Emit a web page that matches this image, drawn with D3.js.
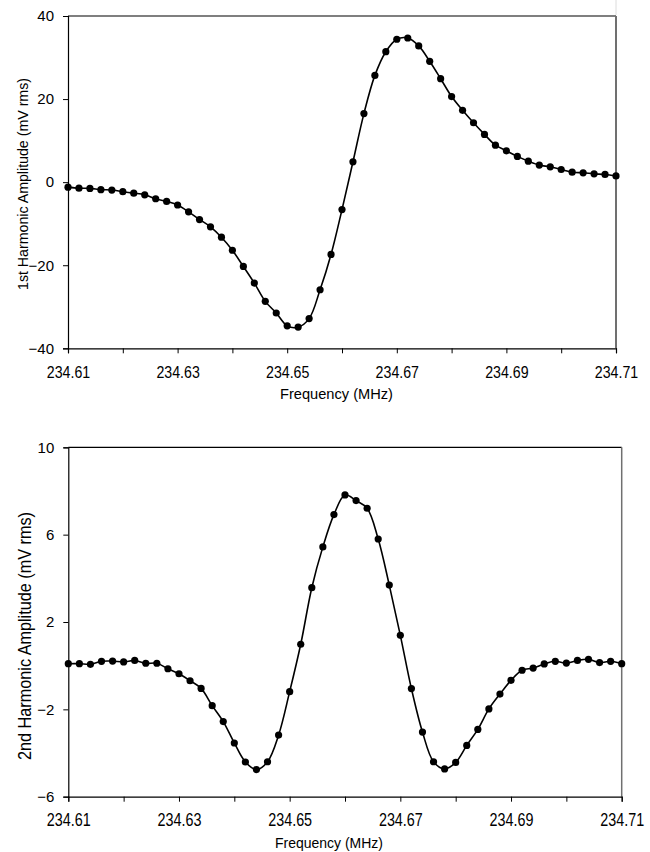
<!DOCTYPE html>
<html>
<head>
<meta charset="utf-8">
<script src="https://cdn.jsdelivr.net/npm/d3@7"></script>
<style>
  body { margin: 0; background: #fff; }
  svg { display: block; }
  text { font-family: "Liberation Sans", Arial, sans-serif; fill: #000; }
</style>
</head>
<body>
<svg width="650" height="852"></svg>
<script>
// frequency points (MHz), every 0.002
var freq = [
    234.610, 234.612, 234.614, 234.616, 234.618, 234.620, 234.622, 234.624, 234.626, 234.628,
    234.630, 234.632, 234.634, 234.636, 234.638, 234.640, 234.642, 234.644, 234.646, 234.648,
    234.650, 234.652, 234.654, 234.656, 234.658, 234.660, 234.662, 234.664, 234.666, 234.668,
    234.670, 234.672, 234.674, 234.676, 234.678, 234.680, 234.682, 234.684, 234.686, 234.688,
    234.690, 234.692, 234.694, 234.696, 234.698, 234.700, 234.702, 234.704, 234.706, 234.708,
    234.710
];

// 1st harmonic amplitude (mV rms)
var h1 = [
    -1.2, -1.45, -1.5, -1.8, -1.9, -2.3, -2.65, -3.05, -4.0, -4.65,
    -5.5, -7.15, -9.0, -10.75, -13.25, -16.4, -20.3, -24.3, -28.7, -31.5,
    -34.6, -34.9, -32.85, -25.9, -17.4, -6.6, 4.9, 16.5, 25.7, 31.4,
    34.4, 34.7, 32.8, 29.1, 24.9, 20.6, 17.3, 14.3, 11.5, 8.9,
    7.55, 6.2, 5.05, 4.1, 3.7, 3.05, 2.4, 2.25, 2.0, 1.85,
    1.5
];

// 2nd harmonic amplitude (mV rms)
var h2 = [
    0.09, 0.09, 0.06, 0.2, 0.21, 0.17, 0.24, 0.11, 0.11, -0.14,
    -0.37, -0.69, -1.04, -1.83, -2.56, -3.54, -4.41, -4.76, -4.4, -3.18,
    -1.19, 0.98, 3.57, 5.44, 6.92, 7.82, 7.56, 7.21, 5.8, 3.69,
    1.39, -1.05, -3.04, -4.4, -4.73, -4.43, -3.65, -2.92, -1.98, -1.3,
    -0.67, -0.21, -0.11, 0.08, 0.2, 0.12, 0.24, 0.29, 0.14, 0.2,
    0.09
];

var xTicks = [234.61, 234.62, 234.63, 234.64, 234.65, 234.66, 234.67, 234.68, 234.69, 234.70, 234.71];
var h1Ticks = [40, 20, 0, -20, -40];
var h2Ticks = [10, 6, 2, -2, -6];

var svg = d3.select("svg");
var fmt = d3.format(".2f");

function drawPanel(p) {
    var x = d3.scaleLinear().domain([234.61, 234.71]).range([p.left, p.right]),
        y = d3.scaleLinear().domain(p.domain).range([p.bottom, p.top]);

    var g = svg.append("g");

    // top + right frame
    g.append("line")
        .attr("x1", p.left).attr("x2", p.right)
        .attr("y1", p.top).attr("y2", p.top)
        .attr("stroke", "#000").attr("stroke-width", 1.2);
    g.append("line")
        .attr("x1", p.right).attr("x2", p.right)
        .attr("y1", p.top).attr("y2", p.bottom)
        .attr("stroke", "#707070").attr("stroke-width", p.rightW);

    // x axis
    var xa = g.append("g")
        .attr("transform", "translate(0," + p.bottom + ")")
        .call(d3.axisBottom(x).tickValues(xTicks).tickSize(5)
            .tickFormat(function (d, i) { return i % 2 ? "" : fmt(d); }));
    xa.select(".domain").attr("stroke", "#000").attr("stroke-width", 1.2);
    xa.selectAll(".tick line").attr("stroke", "#000");
    xa.selectAll(".tick text")
        .attr("dy", null)
        .attr("y", p.xLabelY)
        .attr("transform", "scale(" + p.xLabelScale + ",1)")
        .style("font-size", p.xLabelSize + "px")
        .style("font-family", "'Liberation Sans', Arial, sans-serif");

    // y axis
    var ya = g.append("g")
        .attr("transform", "translate(" + p.left + ",0)")
        .call(d3.axisLeft(y).tickValues(p.ticks).tickSize(5).tickPadding(9));
    ya.select(".domain").attr("stroke", "#000").attr("stroke-width", 1.2);
    ya.selectAll(".tick line").attr("stroke", "#000");
    ya.selectAll(".tick text")
        .style("font-size", "15px")
        .style("font-family", "'Liberation Sans', Arial, sans-serif");

    // curve + markers
    var line = d3.line()
        .x(function (d, i) { return x(freq[i]); })
        .y(function (d) { return y(d); })
        .curve(d3.curveCatmullRom.alpha(0.5));

    g.append("path")
        .datum(p.values)
        .attr("d", line)
        .attr("fill", "none")
        .attr("stroke", "#000")
        .attr("stroke-width", 1.6);

    g.append("g").selectAll("circle")
        .data(p.values)
        .enter().append("circle")
        .attr("cx", function (d, i) { return x(freq[i]); })
        .attr("cy", function (d) { return y(d); })
        .attr("r", 3.6)
        .attr("fill", "#000");

    // titles
    g.append("text")
        .attr("transform", "translate(" + p.yTitleX + "," + p.yTitleY + ") rotate(-90)")
        .attr("text-anchor", "middle")
        .attr("textLength", p.yTitleLen)
        .attr("lengthAdjust", "spacingAndGlyphs")
        .style("font-size", p.yTitleSize + "px")
        .text(p.yTitle);

    g.append("text")
        .attr("x", p.xTitleX)
        .attr("y", p.xTitleY)
        .attr("text-anchor", "middle")
        .attr("textLength", p.xTitleLen)
        .attr("lengthAdjust", "spacingAndGlyphs")
        .style("font-size", "15px")
        .text("Frequency (MHz)");
}

drawPanel({
    left: 68, right: 616, top: 16, bottom: 348.3, rightW: 2,
    domain: [-40, 40], ticks: h1Ticks, values: h1,
    xLabelY: 29.7, xLabelSize: 16.5, xLabelScale: 0.86,
    yTitle: "1st Harmonic Amplitude (mV rms)",
    yTitleX: 27.5, yTitleY: 184, yTitleLen: 212, yTitleSize: 15.5,
    xTitleX: 336.5, xTitleY: 399, xTitleLen: 113
});

drawPanel({
    left: 68.3, right: 621.7, top: 447.3, bottom: 796.7, rightW: 1.5,
    domain: [-6, 10], ticks: h2Ticks, values: h2,
    xLabelY: 29.3, xLabelSize: 17.5, xLabelScale: 0.82,
    yTitle: "2nd Harmonic Amplitude (mV rms)",
    yTitleX: 30.5, yTitleY: 636, yTitleLen: 248, yTitleSize: 19,
    xTitleX: 329, xTitleY: 848, xTitleLen: 108
});

// faint line above the top-right corner
svg.append("line")
    .attr("x1", 616).attr("x2", 616).attr("y1", 0).attr("y2", 15)
    .attr("stroke", "#dcdcdc").attr("stroke-width", 1);
</script>
</body>
</html>
